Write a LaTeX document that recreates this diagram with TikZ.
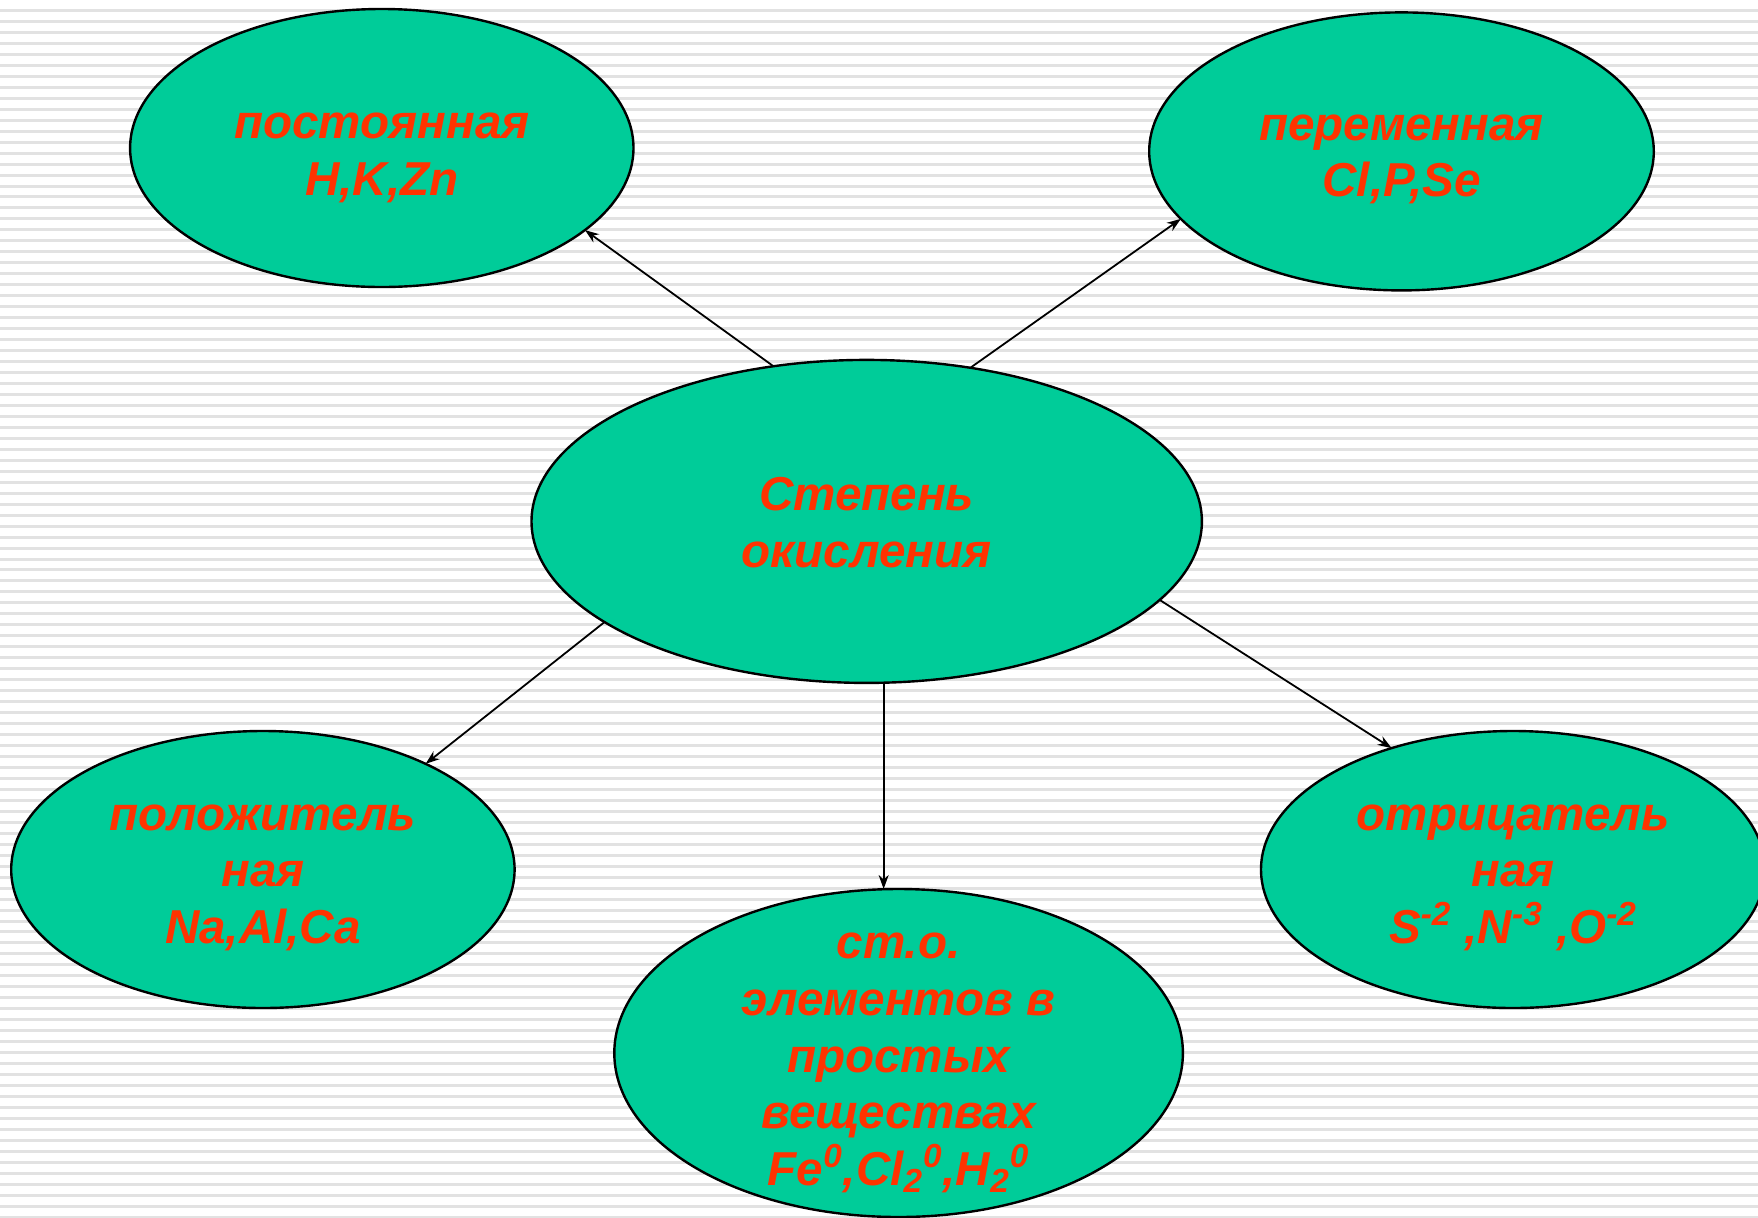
\documentclass[tikz,border=0pt]{standalone}
\usepackage{fontspec}
\setmainfont{Liberation Sans}
\usetikzlibrary{shapes.geometric,arrows.meta}
\definecolor{ovalfill}{HTML}{00CC99}
\definecolor{txtred}{HTML}{FF3300}
\definecolor{stripe}{HTML}{E2E2E2}
\tikzset{
  oval/.style={ellipse, draw=black, line width=1.2pt, fill=ovalfill, inner sep=0pt, outer sep=0pt},
  lbl/.style={text=txtred, align=center, font=\fontsize{23.8}{28.3}\selectfont\bfseries\itshape, inner sep=0pt},
  arr/.style={line width=0.9pt, -{Stealth[length=7pt,width=5pt]}}
}
\begin{document}
\begin{tikzpicture}[x=0.5pt,y=-0.5pt]
\useasboundingbox (0,0) rectangle (1758,1217);
\fill[white] (0,0) rectangle (1758,1217);
\foreach \i in {0,...,111}{
  \draw[stripe, line width=1.5pt] (0,{10.5+10.97*\i}) -- (1758,{10.5+10.97*\i});
}
\begin{scope}
\clip (0,0) rectangle (1758,1217);
\node[oval, minimum width=251.7pt, minimum height=139pt] (tl) at (381.8,148) {};
\node[oval, minimum width=252.3pt, minimum height=139pt] (tr) at (1401.5,151.4) {};
\node[oval, minimum width=335.2pt, minimum height=161.5pt] (c) at (866.7,521.4) {};
\node[oval, minimum width=251.7pt, minimum height=138.5pt] (bl) at (262.9,869.5) {};
\node[oval, minimum width=252pt, minimum height=138.5pt] (br) at (1513,869.5) {};
\node[oval, minimum width=284.3pt, minimum height=164pt] (b) at (898.6,1053) {};
\end{scope}

\node[lbl] (ttl) at ([yshift=-5pt]tl.center) {постоянная\\H,K,Zn};
\node[lbl] (ttr) at ([yshift=-4pt]tr.center) {переменная\\Cl,P,Se};
\node[lbl] (tc) at ([yshift=-0.5pt]c.center) {Степень\\окисления};
\node[lbl] (tbl) at ([yshift=-4pt]bl.center) {положитель\\ная\\Na,Al,Ca};
\node[lbl] (tbr) at ([yshift=-4pt]br.center) {отрицатель\\ная\\S\textsuperscript{-2} ,N\textsuperscript{-3} ,O\textsuperscript{-2}};
\node[lbl] (tb) at ([yshift=-5pt]b.center) {ст.о.\\элементов в\\простых\\веществах\\Fe\textsuperscript{0},Cl\textsubscript{2}\textsuperscript{0},H\textsubscript{2}\textsuperscript{0}};

\draw[arr] (c.121.4) -- (tl.-22.2);
\draw[arr] (c.56.6) -- (tr.-163);
\draw[arr] (c.201.5) -- (bl.33.6);
\draw[arr] (c.-84.4) -- (c.-84.4 |- b.north);
\draw[arr] (c.-15.9) -- (br.135.8);
\end{tikzpicture}
\end{document}
